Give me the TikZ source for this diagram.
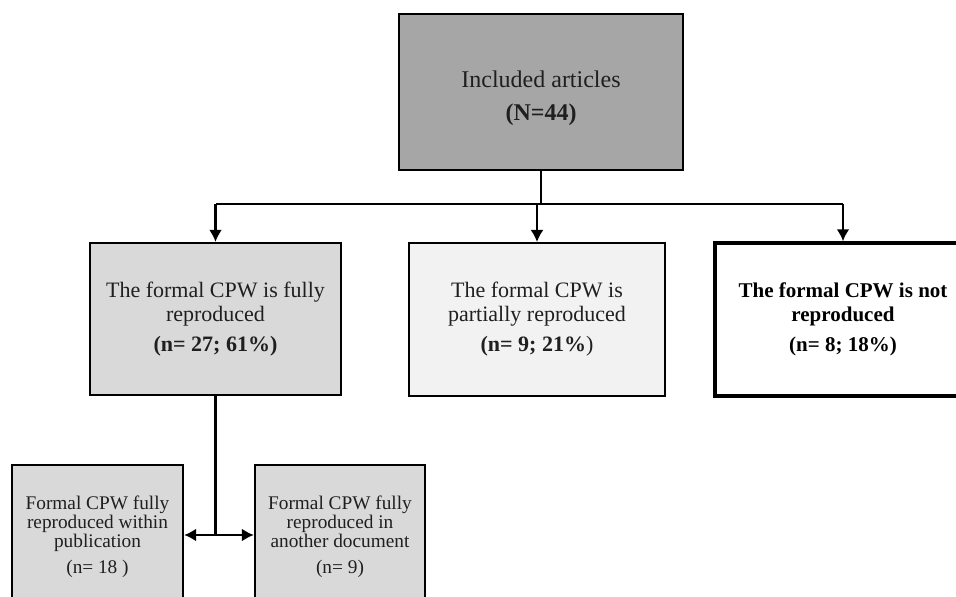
\documentclass[tikz,border=0pt]{standalone}
\usepackage{fontspec}
\setmainfont{Liberation Serif}
\usetikzlibrary{arrows.meta}
\definecolor{topgray}{HTML}{A6A6A6}
\definecolor{midgray}{HTML}{D9D9D9}
\definecolor{lightgray}{HTML}{F2F2F2}
\definecolor{txt}{HTML}{1F1F1F}
\begin{document}
\begin{tikzpicture}[x=1pt,y=-1pt,
  box/.style={draw=black, line width=2.2pt, inner sep=0pt, align=center, text=txt},
  bigtext/.style={font=\fontsize{22}{24}\selectfont},
  toptext/.style={font=\fontsize{24}{26}\selectfont},
  boldtext/.style={font=\fontsize{21}{24}\selectfont\bfseries},
  smalltext/.style={font=\fontsize{19.3}{18.8}\selectfont},
  conn/.style={line width=2.4pt},
  arr/.style={conn,-{Latex[length=12pt,width=13pt]}}]
\useasboundingbox (0,0) rectangle (956,597);
\clip (0,0) rectangle (956,597);
\node[box, toptext, fill=topgray, minimum width=284pt, minimum height=156pt] (top) at (541,92)
  {\rule{0pt}{30pt}Included articles\\[7pt]\textbf{(N=44)}};
\node[box, bigtext, fill=midgray, minimum width=251pt, minimum height=152pt] (left) at (215.5,319)
  {The formal CPW is fully\\reproduced\\[6pt]\textbf{(n= 27; 61\%)}};
\node[box, bigtext, fill=lightgray, minimum width=256pt, minimum height=153pt] (mid) at (537,319.5)
  {The formal CPW is\\partially reproduced\\[6pt]\textbf{(n= 9; 21\%})};
\node[box, boldtext, fill=white, line width=3.5pt, minimum width=256pt, minimum height=153pt, text=black] (right) at (843,319.5)
  {The formal CPW is not\\reproduced\\[6pt](n= 8; 18\%)};
\node[box, smalltext, fill=midgray, minimum width=171pt, minimum height=144pt] (bl) at (97.5,537)
  {Formal CPW fully\\reproduced within\\publication\\[8pt](n= 18 )};
\node[box, smalltext, fill=midgray, minimum width=170pt, minimum height=144pt] (br) at (340,537)
  {Formal CPW fully\\reproduced in\\another document\\[8pt](n= 9)};
\coordinate (split) at (top.south |- 0,204);
\draw[conn] (top.south) -- (split);
\draw[conn] (left.north |- split) -- (right.north |- split);
\draw[arr] (left.north |- split) -- (left.north);
\draw[arr, line width=1.5pt] (mid.north |- split) -- (mid.north);
\draw[arr] (right.north |- split) -- (right.north);
\coordinate (fork) at (left.south |- 0,535);
\draw[conn] (left.south) -- (fork);
\draw[arr] (fork) -- (fork -| bl.east);
\draw[arr] (fork) -- (fork -| br.west);
\end{tikzpicture}
\end{document}
